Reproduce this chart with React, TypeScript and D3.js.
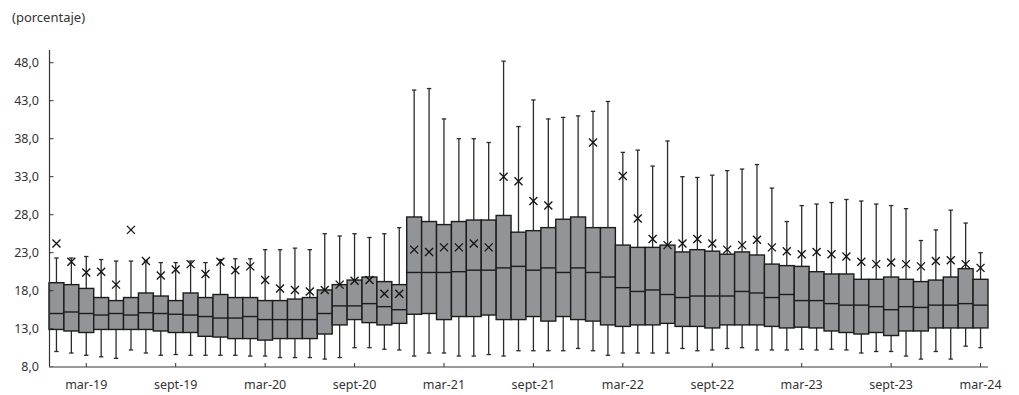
import React, { useEffect, useRef } from "react";
import * as d3 from "d3";

// Monthly distribution, Jan 2019 – Mar 2024
const months: string[] = [
  "ene-19","feb-19","mar-19","abr-19","may-19","jun-19","jul-19","ago-19","sept-19","oct-19","nov-19","dic-19",
  "ene-20","feb-20","mar-20","abr-20","may-20","jun-20","jul-20","ago-20","sept-20","oct-20","nov-20","dic-20",
  "ene-21","feb-21","mar-21","abr-21","may-21","jun-21","jul-21","ago-21","sept-21","oct-21","nov-21","dic-21",
  "ene-22","feb-22","mar-22","abr-22","may-22","jun-22","jul-22","ago-22","sept-22","oct-22","nov-22","dic-22",
  "ene-23","feb-23","mar-23","abr-23","may-23","jun-23","jul-23","ago-23","sept-23","oct-23","nov-23","dic-23",
  "ene-24","feb-24","mar-24",
];

const minVals: number[] = [
  10.0, 9.8, 9.5, 9.3, 9.1, 10.2, 9.8, 9.5, 9.6, 9.5, 9.5, 9.5,
  9.5, 9.4, 9.4, 9.2, 9.2, 9.2, 9.0, 9.2, 10.5, 10.5, 10.3, 10.2,
  9.4, 9.8, 9.8, 9.4, 9.4, 9.6, 9.4, 10.1, 10.1, 10.1, 10.1, 10.4,
  10.1, 9.5, 9.8, 9.8, 9.8, 9.8, 10.4, 10.1, 10.2, 10.4, 10.5, 10.2,
  10.2, 10.2, 10.3, 10.2, 10.3, 10.2, 9.8, 10.0, 10.0, 9.4, 9.0, 10.0,
  9.0, 10.7, 10.5,
];

const q1Vals: number[] = [
  12.9, 12.7, 12.5, 12.9, 12.9, 12.9, 12.9, 12.7, 12.5, 12.5, 12.0, 11.9,
  11.7, 11.7, 11.5, 11.7, 11.7, 11.7, 12.3, 13.5, 14.2, 13.8, 13.5, 13.7,
  14.9, 15.0, 14.2, 14.6, 14.6, 14.8, 14.2, 14.2, 14.6, 14.0, 14.6, 14.2,
  14.0, 13.5, 13.3, 13.5, 13.5, 13.7, 13.3, 13.3, 13.1, 13.5, 13.5, 13.5,
  13.3, 13.1, 13.2, 13.1, 12.7, 12.5, 12.3, 12.5, 12.1, 12.7, 12.7, 13.1,
  13.1, 13.1, 13.1,
];

const medianVals: number[] = [
  15.0, 15.2, 15.0, 14.8, 15.0, 14.8, 15.1, 15.0, 14.9, 14.8, 14.6, 14.4,
  14.4, 14.6, 14.2, 14.2, 14.2, 14.2, 15.0, 16.0, 16.0, 16.3, 15.9, 15.5,
  20.4, 20.4, 20.4, 20.5, 20.7, 20.7, 21.0, 21.2, 20.7, 21.0, 20.4, 21.0,
  20.4, 19.8, 18.4, 17.9, 18.1, 17.5, 17.1, 17.3, 17.3, 17.3, 17.9, 17.7,
  17.1, 17.5, 16.7, 16.7, 16.3, 16.1, 16.1, 15.9, 15.5, 15.9, 15.8, 16.1,
  16.1, 16.3, 16.1,
];

const q3Vals: number[] = [
  19.05, 18.8, 18.3, 17.1, 16.7, 17.1, 17.7, 17.3, 16.7, 17.7, 17.1, 17.5,
  17.1, 17.1, 16.7, 16.7, 16.9, 17.1, 18.1, 18.8, 19.4, 19.8, 19.2, 18.8,
  27.7, 27.1, 26.7, 27.1, 27.3, 27.3, 27.9, 25.7, 25.9, 26.3, 27.4, 27.7,
  26.3, 26.3, 24.0, 23.7, 23.7, 24.0, 23.1, 23.4, 23.2, 22.8, 23.1, 22.7,
  21.5, 21.3, 21.2, 20.5, 20.2, 20.2, 19.5, 19.5, 19.8, 19.5, 19.2, 19.4,
  19.8, 20.9, 19.5,
];

const maxVals: number[] = [
  22.3, 22.3, 22.5, 22.1, 21.9, 21.9, 21.9, 21.7, 21.7, 21.9, 21.7, 22.1,
  22.2, 22.2, 23.4, 23.4, 23.6, 23.4, 25.5, 25.2, 25.5, 25.0, 25.5, 26.3,
  44.4, 44.6, 40.6, 38.0, 38.0, 37.5, 48.2, 39.6, 43.1, 40.6, 40.8, 41.0,
  41.6, 42.9, 36.2, 36.5, 34.4, 37.7, 33.0, 32.9, 33.2, 33.8, 34.0, 34.6,
  31.5, 27.1, 29.2, 29.4, 29.6, 30.0, 29.8, 29.4, 29.2, 28.8, 24.6, 26.0,
  28.6, 26.9, 23.0,
];

const meanVals: (number | null)[] = [
  24.2, 21.8, 20.4, 20.5, 18.8, 26.0, 21.9, 20.0, 20.8, 21.5, 20.2, 21.8,
  20.7, 21.2, 19.4, 18.3, 18.1, 17.9, 18.1, 18.8, 19.3, 19.4, 17.6, 17.6,
  23.4, 23.1, 23.7, 23.7, 24.2, 23.7, 33.0, 32.4, 29.8, 29.2, null, null,
  37.5, null, 33.1, 27.5, 24.8, 24.0, 24.2, 24.8, 24.2, 23.4, 24.0, 24.7,
  23.7, 23.2, 22.8, 23.1, 22.8, 22.5, 21.8, 21.5, 21.7, 21.5, 21.2, 21.9,
  22.0, 21.5, 21.0,
];

const yTicks: number[] = [8, 13, 18, 23, 28, 33, 38, 43, 48];
const xTickLabels: string[] = [
  "mar-19","sept-19","mar-20","sept-20","mar-21","sept-21",
  "mar-22","sept-22","mar-23","sept-23","mar-24",
];

const W = 1019;
const H = 395;
const FONT = "'Noto Sans', 'Open Sans', sans-serif";

export default function App() {
  const ref = useRef<SVGSVGElement | null>(null);

  useEffect(() => {
    const svg = d3.select(ref.current);
    svg.selectAll("*").remove();

    const x = d3.scaleBand<string>().domain(months).range([49, 988]).padding(0);
    const y = d3.scaleLinear().domain([8, 48]).range([366.7, 62.7]);
    const bw = x.bandwidth();

    const data = months.map((m, i) => ({
      m,
      min: minVals[i],
      q1: q1Vals[i],
      med: medianVals[i],
      q3: q3Vals[i],
      max: maxVals[i],
      mean: meanVals[i],
    }));

    // title
    svg.append("text")
      .attr("x", 12)
      .attr("y", 22)
      .attr("font-family", FONT)
      .attr("font-size", 13)
      .attr("fill", "#333")
      .text("(porcentaje)");

    // whiskers
    const g = svg.append("g");
    const wh = g.selectAll("g.wh").data(data).join("g").attr("class", "wh");
    wh.append("line")
      .attr("x1", (d) => x(d.m)! + bw / 2)
      .attr("x2", (d) => x(d.m)! + bw / 2)
      .attr("y1", (d) => y(d.min))
      .attr("y2", (d) => y(d.max))
      .attr("stroke", "#2b2b2b")
      .attr("stroke-width", 1.3);
    ["min", "max"].forEach((k) => {
      wh.append("line")
        .attr("x1", (d: any) => x(d.m)! + bw / 2 - 2.2)
        .attr("x2", (d: any) => x(d.m)! + bw / 2 + 2.2)
        .attr("y1", (d: any) => y(d[k]))
        .attr("y2", (d: any) => y(d[k]))
        .attr("stroke", "#2b2b2b")
        .attr("stroke-width", 1.3);
    });

    // boxes
    g.selectAll("rect.box").data(data).join("rect")
      .attr("class", "box")
      .attr("x", (d) => x(d.m)!)
      .attr("width", bw)
      .attr("y", (d) => y(d.q3))
      .attr("height", (d) => y(d.q1) - y(d.q3))
      .attr("fill", "#939497")
      .attr("stroke", "#1c1c1c")
      .attr("stroke-width", 1.4);

    // medians
    g.selectAll("line.med").data(data).join("line")
      .attr("class", "med")
      .attr("x1", (d) => x(d.m)!)
      .attr("x2", (d) => x(d.m)! + bw)
      .attr("y1", (d) => y(d.med))
      .attr("y2", (d) => y(d.med))
      .attr("stroke", "#1c1c1c")
      .attr("stroke-width", 1.4);

    // means
    const s = 4;
    const mg = g.selectAll("g.mean").data(data.filter((d) => d.mean != null)).join("g")
      .attr("class", "mean")
      .attr("transform", (d) => `translate(${x(d.m)! + bw / 2},${y(d.mean as number)})`);
    mg.append("path")
      .attr("d", `M${-s},${-s}L${s},${s}M${-s},${s}L${s},${-s}`)
      .attr("stroke", "#111")
      .attr("stroke-width", 1.3)
      .attr("fill", "none");

    // y axis
    svg.append("line")
      .attr("x1", 49.5).attr("x2", 49.5)
      .attr("y1", 50).attr("y2", 367)
      .attr("stroke", "#333").attr("stroke-width", 1.2);
    const yt = svg.append("g").selectAll("g").data(yTicks).join("g");
    yt.append("line")
      .attr("x1", 49.5).attr("x2", 53.5)
      .attr("y1", (d) => y(d)).attr("y2", (d) => y(d))
      .attr("stroke", "#333").attr("stroke-width", 1);
    yt.append("text")
      .attr("x", 39)
      .attr("y", (d) => y(d))
      .attr("dy", "0.35em")
      .attr("text-anchor", "end")
      .attr("font-family", FONT)
      .attr("font-size", 12.5)
      .attr("fill", "#333")
      .text((d) => d.toFixed(1).replace(".", ","));

    // x axis
    svg.append("line")
      .attr("x1", 49).attr("x2", 988)
      .attr("y1", 367).attr("y2", 367)
      .attr("stroke", "#7a7a7a").attr("stroke-width", 1.5);
    const xt = svg.append("g").selectAll("g").data(xTickLabels).join("g");
    xt.append("line")
      .attr("x1", (d) => x(d)! + bw / 2).attr("x2", (d) => x(d)! + bw / 2)
      .attr("y1", 367).attr("y2", 363)
      .attr("stroke", "#333").attr("stroke-width", 1);
    xt.append("text")
      .attr("x", (d) => x(d)! + bw / 2)
      .attr("y", 389)
      .attr("text-anchor", "middle")
      .attr("font-family", FONT)
      .attr("font-size", 12.5)
      .attr("fill", "#333")
      .text((d) => d);
  }, []);

  return (
    <svg
      ref={ref}
      width={W}
      height={H}
      style={{ position: "absolute", left: 0, top: 0, background: "#fff" }}
    />
  );
}
